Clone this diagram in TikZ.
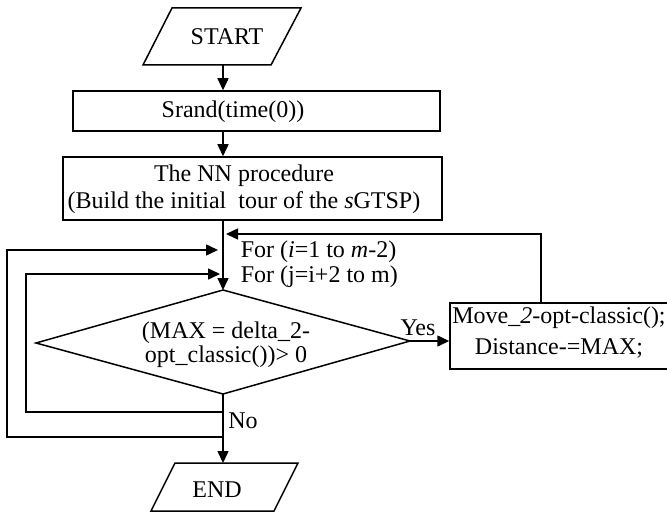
\documentclass[tikz,border=0pt]{standalone}
\usepackage{fontspec}
\setmainfont{Liberation Serif}
\usetikzlibrary{arrows.meta}
\begin{document}
\begin{tikzpicture}[x=0.5pt,y=-0.5pt,line width=0.75pt,
  arr/.style={-{Triangle[length=6pt,width=5.5pt]}},
  txt/.style={inner sep=0pt,font=\fontsize{12}{13.5}\selectfont,align=center},
  procbox/.style={draw,rectangle,inner sep=0pt}]
\useasboundingbox (0,0) rectangle (667,513);

% START parallelogram
\draw (172,8) -- (301,8) -- (271,65) -- (143,65) -- cycle;
\node[txt] (start) at (227,37) {START};
\coordinate (startbot) at (223,65);

% process boxes
\node[procbox,minimum width=183.5pt,minimum height=20pt] (srand) at (256.5,111) {};
\node[txt] (srandtxt) at (233,112) {Srand(time(0))};

\node[procbox,minimum width=189.5pt,minimum height=31.5pt] (nn) at (252.5,188.5) {};
\node[txt] (nntxt) at (244,189) {The NN procedure\\(Build the initial\ \ tour of the \textit{s}GTSP)};

\node[procbox,minimum width=115pt,minimum height=33pt] (move) at (565,336) {};
\node[txt,font=\fontsize{12}{15.5}\selectfont] (movetxt) at (559,333)
  {Move\_\textit{2}-opt-classic();\\Distance-=MAX;};

% decision
\coordinate (dT) at (223,290);
\coordinate (dR) at (410,341);
\coordinate (dB) at (223,394);
\coordinate (dL) at (36,343);
\draw (dT) -- (dR) -- (dB) -- (dL) -- cycle;
\node[txt,font=\fontsize{12}{12}\selectfont] (cond) at (226,345)
  {(MAX = delta\_2-\\opt\_classic())> 0};

% END parallelogram
\draw (175,463) -- (298,463) -- (274,511) -- (151,511) -- cycle;
\node[txt] (end) at (217,490) {END};
\coordinate (endtop) at (223,463);

% loop headers
\node[txt,anchor=west] (fori) at (240,252) {For (\textit{i}=1 to \textit{m}-2)};
\node[txt,anchor=west] (forj) at (240,277) {For (j=i+2 to m)};

% labels
\node[txt] (yes) at (418,328) {Yes};
\node[txt] (no) at (243,421) {No};

% connectors
\draw[arr] (startbot) -- (startbot |- srand.north);
\draw[arr] (startbot |- srand.south) -- (startbot |- nn.north);
\draw[arr] (startbot |- nn.south) -- (dT);
\draw[arr] (dR) -- (move.west |- dR);
\draw[arr] (dB) -- (endtop);

\coordinate (mvtop) at (541,303);
\coordinate (jin) at (226,234);
\draw[arr] (mvtop) |- (jin);

\coordinate (outerfrom) at (223,437);
\coordinate (outerto) at (218,250);
\draw[arr] (outerfrom) -| (7,250) -- (outerto);

\coordinate (innerfrom) at (223,412);
\coordinate (innerto) at (220,274);
\draw[arr] (innerfrom) -| (26,274) -- (innerto);
\end{tikzpicture}
\end{document}
